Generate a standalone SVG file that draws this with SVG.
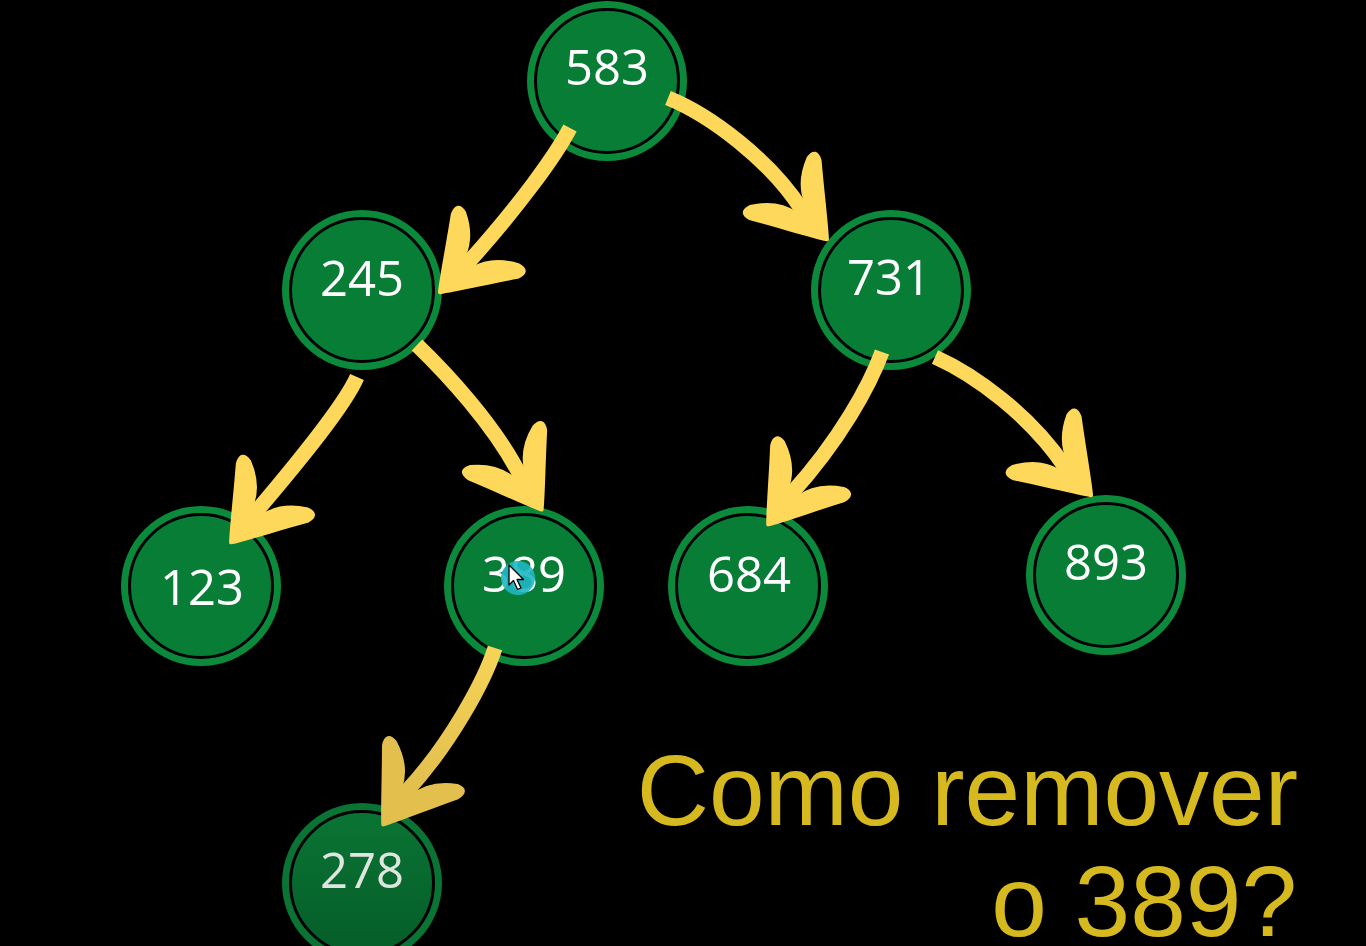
<svg xmlns="http://www.w3.org/2000/svg" width="1366" height="946" viewBox="0 0 1366 946">
  <defs>
    <style>
      .ring { fill: #0b8a3c; }
      .core { fill: #077d36; stroke: #000; stroke-width: 3; }
      .lbl { font-family: "Open Sans", "Noto Sans", sans-serif; font-size: 49px; fill: #ffffff; text-anchor: middle; }
      .shaft { fill: none; stroke: #fdd85a; stroke-width: 15; stroke-linecap: butt; }
      .head { fill: #fdd85a; stroke: #fdd85a; stroke-width: 4; stroke-linejoin: round; }
      .title { font-family: "Liberation Sans", Arial, sans-serif; font-size: 100px; fill: #d6b91f; text-anchor: end; }
    </style>
    <linearGradient id="fade" x1="0" y1="0" x2="0" y2="1">
      <stop offset="0" stop-color="#0a7434"/>
      <stop offset="1" stop-color="#055d28"/>
    </linearGradient>
    <linearGradient id="gold" gradientUnits="userSpaceOnUse" x1="0" y1="648" x2="0" y2="830">
      <stop offset="0" stop-color="#f6d458"/>
      <stop offset="1" stop-color="#dcb94b"/>
    </linearGradient>
    <path id="head" d="M 3,0 C -10,-10 -38,-28 -62,-45 Q -74,-50 -71,-38 C -64,-24 -54,-12 -36,-7 L -36,7 C -54,12 -64,24 -71,38 Q -74,50 -62,45 C -38,28 -10,10 3,0 Z"/>
  </defs>

  <rect x="0" y="0" width="1366" height="946" fill="#000"/>

  <g id="node-583">
    <circle class="ring" cx="607" cy="81" r="80"/>
    <circle class="core" cx="607" cy="81" r="71.5"/>
    <text class="lbl" x="607" y="85">583</text>
  </g>
  <g id="node-245">
    <circle class="ring" cx="362" cy="290" r="80"/>
    <circle class="core" cx="362" cy="290" r="71.5"/>
    <text class="lbl" x="362" y="296">245</text>
  </g>
  <g id="node-731">
    <circle class="ring" cx="891" cy="290" r="80"/>
    <circle class="core" cx="891" cy="290" r="71.5"/>
    <text class="lbl" x="889" y="295">731</text>
  </g>
  <g id="node-123">
    <circle class="ring" cx="201" cy="586" r="80"/>
    <circle class="core" cx="201" cy="586" r="71.5"/>
    <text class="lbl" x="202" y="605">123</text>
  </g>
  <g id="node-389">
    <circle class="ring" cx="524" cy="586" r="80"/>
    <circle class="core" cx="524" cy="586" r="71.5"/>
    <text class="lbl" x="524" y="592">389</text>
  </g>
  <g id="node-684">
    <circle class="ring" cx="748" cy="586" r="80"/>
    <circle class="core" cx="748" cy="586" r="71.5"/>
    <text class="lbl" x="749" y="592">684</text>
  </g>
  <g id="node-893">
    <circle class="ring" cx="1106" cy="575" r="80"/>
    <circle class="core" cx="1106" cy="575" r="71.5"/>
    <text class="lbl" x="1106" y="580">893</text>
  </g>
  <g id="node-278">
    <circle cx="362" cy="883" r="80" fill="#0a7434"/>
    <circle cx="362" cy="883" r="71.5" fill="url(#fade)" stroke="#000" stroke-width="3"/>
    <text class="lbl" x="362" y="888" style="fill:#dfe6df">278</text>
  </g>

  <g id="connectors">
    <path class="shaft" d="M570,128 C556,155 520,205 466,265"/>
    <use href="#head" class="head" transform="translate(442,290) rotate(134.1)"/>

    <path class="shaft" d="M668,98 C710,115 770,160 802,210"/>
    <use href="#head" class="head" transform="translate(825,237) rotate(50)"/>

    <path class="shaft" d="M357,377 C345,405 300,460 255,513"/>
    <use href="#head" class="head" transform="translate(233,540) rotate(129.6)"/>

    <path class="shaft" d="M417,345 C445,372 495,425 521,477"/>
    <use href="#head" class="head" transform="translate(540,507) rotate(57.9)"/>

    <path class="shaft" d="M882,352 C870,385 840,440 791,494"/>
    <use href="#head" class="head" transform="translate(770,522) rotate(127.6)"/>

    <path class="shaft" d="M935,357 C975,375 1030,415 1065,467"/>
    <use href="#head" class="head" transform="translate(1089,493) rotate(47)"/>

    <path class="shaft" d="M495,648 C485,680 450,745 405,793" style="stroke:url(#gold)"/>
    <use href="#head" class="head" transform="translate(385,822) rotate(125.2)" style="fill:#e3c04e;stroke:#e3c04e"/>
  </g>

  <g id="cursor">
    <circle cx="518" cy="578" r="17" fill="#1fb7c3" opacity="0.9"/>
    <path d="M509,565 L509,585 L513.5,580.5 L517.5,589.5 L521,588 L517,579.5 L523.5,579.5 Z" fill="#fff" stroke="#000" stroke-width="1.3" stroke-linejoin="round"/>
  </g>

  <g id="caption">
    <text class="title" x="1298" y="825">Como remover</text>
    <text class="title" x="1297" y="936">o 389?</text>
  </g>
</svg>
